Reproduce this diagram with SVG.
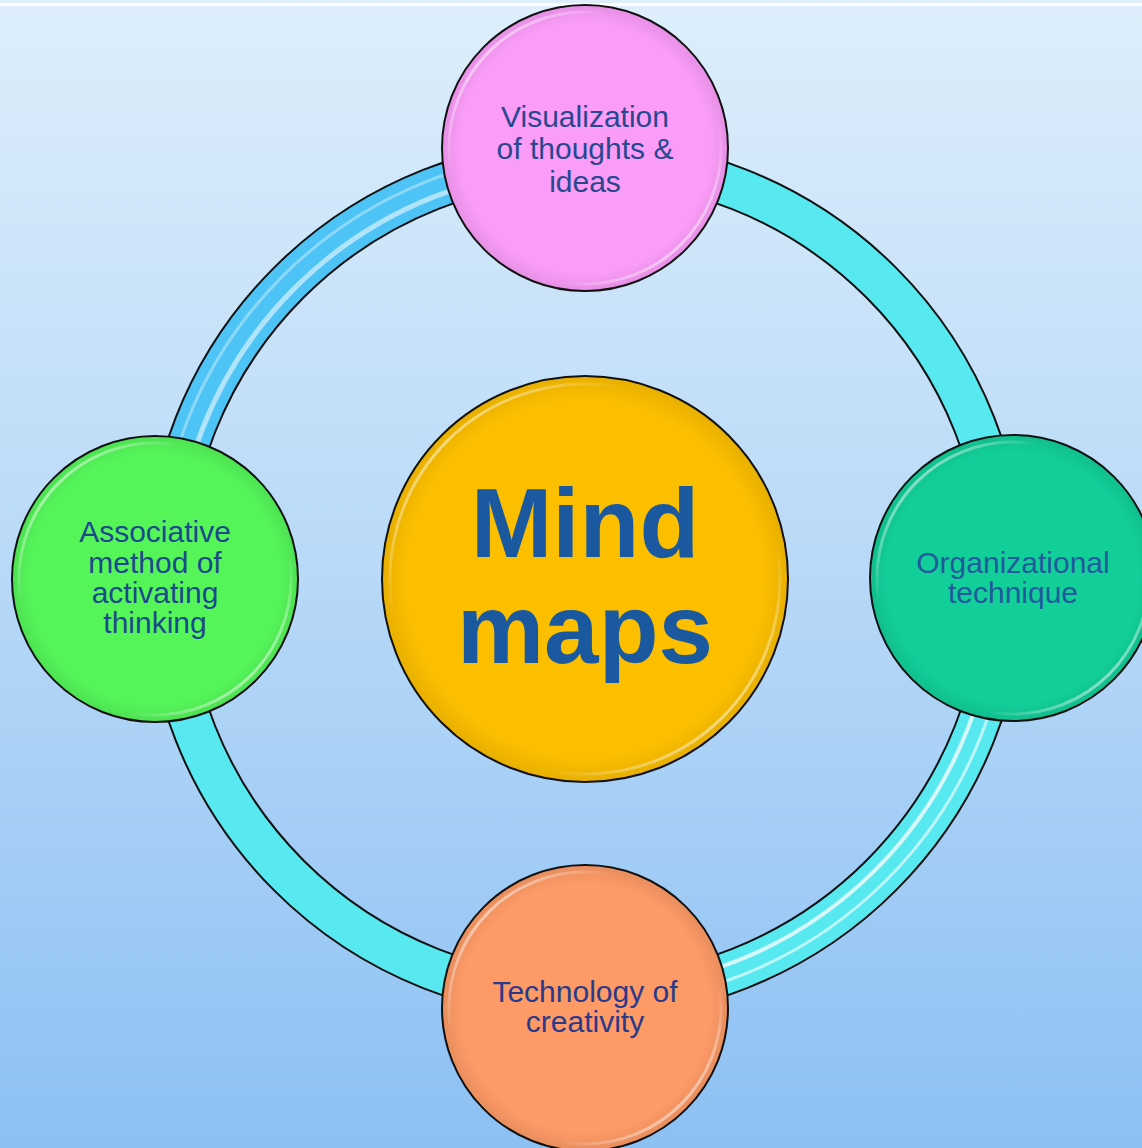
<svg xmlns="http://www.w3.org/2000/svg" width="1142" height="1148" viewBox="0 0 1142 1148">
  <defs>
    <linearGradient id="bg" x1="0" y1="0" x2="0" y2="1">
      <stop offset="0" stop-color="#deeefb"/>
      <stop offset="0.5" stop-color="#b8d9f8"/>
      <stop offset="1" stop-color="#8cc0f3"/>
    </linearGradient>
    <linearGradient id="gloss" x1="0" y1="0" x2="1" y2="1">
      <stop offset="0" stop-color="#ffffff" stop-opacity="0.9"/>
      <stop offset="0.3" stop-color="#ffffff" stop-opacity="0"/>
      <stop offset="0.7" stop-color="#ffffff" stop-opacity="0"/>
      <stop offset="1" stop-color="#ffffff" stop-opacity="0.9"/>
    </linearGradient>
    <radialGradient id="shade" cx="0.5" cy="0.5" r="0.5">
      <stop offset="0.88" stop-color="#000000" stop-opacity="0"/>
      <stop offset="1" stop-color="#000000" stop-opacity="0.08"/>
    </radialGradient>
  </defs>
  <style>
    .node { stroke: #111111; stroke-width: 2; }
    .rim { fill: none; stroke: url(#gloss); stroke-width: 3; }
    .arcb { fill: none; stroke: #111111; stroke-width: 44; }
    .arcc { fill: none; stroke: #58e8f0; stroke-width: 40; }
    .arcblue { fill: none; stroke: #4ec4f6; stroke-width: 40; }
    .stripe { fill: none; stroke: #ffffff; }
    .lbl { font-family: "Liberation Sans", Arial, sans-serif; font-size: 30px; fill: #27488f; text-anchor: middle; }
    .big { font-family: "Liberation Sans", Arial, sans-serif; font-size: 98px; font-weight: bold; fill: #1a58a0; text-anchor: middle; }
  </style>

  <rect x="0" y="0" width="1142" height="1148" fill="url(#bg)"/>
  <rect x="0" y="3" width="1142" height="3" fill="#ffffff"/>

  <g id="connectors">
    <!-- top-left arc (blue, glossy) -->
    <path class="arcb" d="M166,579 A419,419 0 0 1 585,160"/>
    <path class="arcblue" d="M166,579 A419,419 0 0 1 585,160"/>
    <path class="stripe" stroke-opacity="0.55" stroke-width="5" d="M174,579 A411,411 0 0 1 585,168"/>
    <path class="stripe" stroke-opacity="0.35" stroke-width="3" d="M157,579 A428,428 0 0 1 585,151"/>
    <!-- top-right arc (plain cyan) -->
    <path class="arcb" d="M585,160 A419,419 0 0 1 1004,579"/>
    <path class="arcc" d="M585,160 A419,419 0 0 1 1004,579"/>
    <!-- bottom-right arc (cyan, glossy) -->
    <path class="arcb" d="M1004,579 A419,419 0 0 1 585,998"/>
    <path class="arcc" d="M1004,579 A419,419 0 0 1 585,998"/>
    <path class="stripe" stroke-opacity="0.75" stroke-width="4" d="M996,579 A411,411 0 0 1 585,990"/>
    <path class="stripe" stroke-opacity="0.6" stroke-width="3" d="M1011,579 A426,426 0 0 1 585,1005"/>
    <!-- bottom-left arc (plain cyan) -->
    <path class="arcb" d="M585,998 A419,419 0 0 1 166,579"/>
    <path class="arcc" d="M585,998 A419,419 0 0 1 166,579"/>
  </g>

  <g id="center">
    <circle class="node" cx="585" cy="579" r="203" fill="#fcbf00"/>
    <circle cx="585" cy="579" r="202" fill="url(#shade)"/>
    <circle class="rim" cx="585" cy="579" r="195"/>
    <text class="big" x="585" y="557">Mind</text>
    <text class="big" x="585" y="663">maps</text>
  </g>

  <g id="top">
    <circle class="node" cx="585" cy="148" r="143" fill="#fb9cf9"/>
    <circle cx="585" cy="148" r="142" fill="url(#shade)"/>
    <circle class="rim" cx="585" cy="148" r="136"/>
    <text class="lbl" x="585" y="127">Visualization</text>
    <text class="lbl" x="585" y="159">of thoughts &amp;</text>
    <text class="lbl" x="585" y="192">ideas</text>
  </g>

  <g id="right">
    <circle class="node" cx="1013" cy="578" r="143" fill="#12cf9a"/>
    <circle cx="1013" cy="578" r="142" fill="url(#shade)"/>
    <circle class="rim" cx="1013" cy="578" r="136"/>
    <text class="lbl" x="1013" y="573" style="fill:#1f5a9c">Organizational</text>
    <text class="lbl" x="1013" y="603" style="fill:#1f5a9c">technique</text>
  </g>

  <g id="bottom">
    <circle class="node" cx="585" cy="1008" r="143" fill="#fd9a66"/>
    <circle cx="585" cy="1008" r="142" fill="url(#shade)"/>
    <circle class="rim" cx="585" cy="1008" r="136"/>
    <text class="lbl" x="585" y="1002" style="fill:#2a3a8a">Technology of</text>
    <text class="lbl" x="585" y="1032" style="fill:#2a3a8a">creativity</text>
  </g>

  <g id="left">
    <circle class="node" cx="155" cy="579" r="143" fill="#55f55a"/>
    <circle cx="155" cy="579" r="142" fill="url(#shade)"/>
    <circle class="rim" cx="155" cy="579" r="136"/>
    <text class="lbl" x="155" y="542" style="fill:#1a4a8a">Associative</text>
    <text class="lbl" x="155" y="573" style="fill:#1a4a8a">method of</text>
    <text class="lbl" x="155" y="603" style="fill:#1a4a8a">activating</text>
    <text class="lbl" x="155" y="633" style="fill:#1a4a8a">thinking</text>
  </g>
</svg>
